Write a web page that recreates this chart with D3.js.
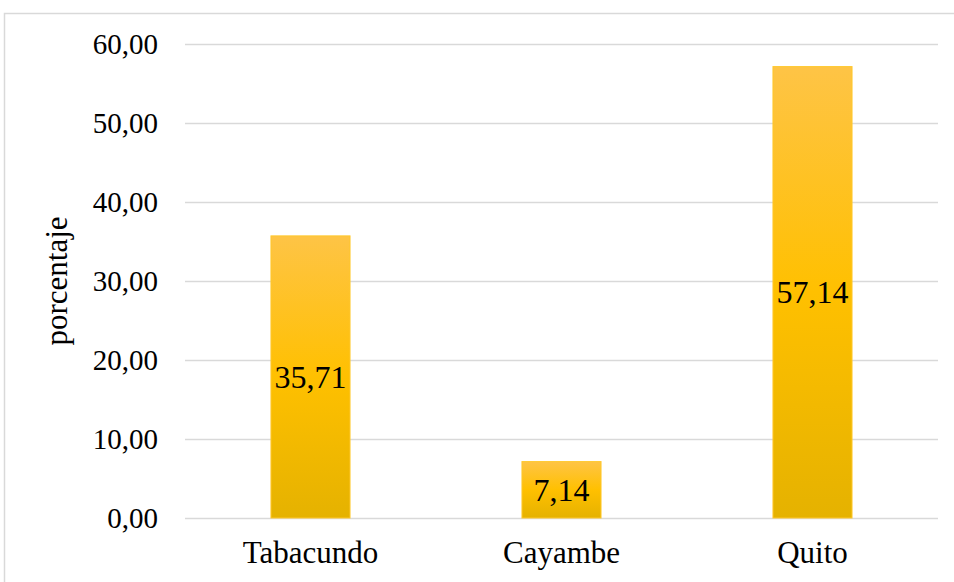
<!DOCTYPE html>
<html>
<head>
	<meta charset="utf-8">
	<script src="https://d3js.org/d3.v7.min.js"></script>
	<style>
		body { margin: 0; background: #fff; }
		text { font-family: "Liberation Serif", "Times New Roman", serif; fill: #000; }
	</style>
</head>
<body>
	<script type="text/javascript">

		//categories and values
		var categories = ["Tabacundo", "Cayambe", "Quito"];
		var values = [35.71, 7.14, 57.14];
		var tickValues = [0, 10, 20, 30, 40, 50, 60];
		var yLabel = "porcentaje";

		var w = 954;
		var h = 582;
		var margin = {left: 185, right: 16, top: 44, bottom: 64};
		var serif = "'Liberation Serif', 'Times New Roman', serif";

		var fmt = function(v) {
			return v.toFixed(2).replace(".", ",");
		};

		var svg = d3.select("body")
				.append("svg")
				.attr("width", w)
				.attr("height", h);

		//chart frame
		svg.append("rect")
			.attr("x", 4.5)
			.attr("y", 13.5)
			.attr("width", w + 10)
			.attr("height", h + 10)
			.attr("fill", "none")
			.attr("stroke", "#d9d9d9")
			.attr("stroke-width", 1.5);

		var defs = svg.append("defs");
		var grad = defs.append("linearGradient")
			.attr("id", "barGrad")
			.attr("x1", 0).attr("y1", 0)
			.attr("x2", 0).attr("y2", 1);
		grad.append("stop").attr("offset", "0%").attr("stop-color", "#fec446");
		grad.append("stop").attr("offset", "50%").attr("stop-color", "#ffc000");
		grad.append("stop").attr("offset", "100%").attr("stop-color", "#e5b200");

		var yScale = d3.scaleLinear()
			.domain([0, 60])
			.range([h - margin.bottom, margin.top]);

		var xScale = d3.scaleBand()
			.domain(categories)
			.range([margin.left, w - margin.right])
			.paddingInner(0.685)
			.paddingOuter(0.3425);

		//gridlines
		svg.append("g")
			.selectAll("line")
			.data(tickValues)
			.enter()
			.append("line")
			.attr("x1", margin.left)
			.attr("x2", w - margin.right)
			.attr("y1", function(d) { return Math.round(yScale(d)) + 0.5; })
			.attr("y2", function(d) { return Math.round(yScale(d)) + 0.5; })
			.attr("stroke", "#d9d9d9")
			.attr("stroke-width", 1.5);

		//y axis labels
		var yAxis = d3.axisLeft(yScale)
			.tickValues(tickValues)
			.tickFormat(fmt)
			.tickSize(0)
			.tickPadding(27);

		var yg = svg.append("g")
			.attr("transform", "translate(" + margin.left + ",0)")
			.call(yAxis);
		yg.select(".domain").remove();
		yg.selectAll("text")
			.style("font-family", serif)
			.style("font-size", "29px")
			.attr("fill", "#000");

		//bars
		svg.selectAll("rect.bar")
			.data(values)
			.enter()
			.append("rect")
			.attr("class", "bar")
			.attr("x", function(d, i) { return xScale(categories[i]); })
			.attr("y", function(d) { return yScale(d); })
			.attr("width", xScale.bandwidth())
			.attr("height", function(d) { return yScale(0) - yScale(d); })
			.attr("fill", "url(#barGrad)")
			.attr("stroke", "#ffc82c")
			.attr("stroke-width", 1);

		//value labels
		svg.selectAll("text.val")
			.data(values)
			.enter()
			.append("text")
			.attr("class", "val")
			.attr("x", function(d, i) { return xScale(categories[i]) + xScale.bandwidth() / 2; })
			.attr("y", function(d) { return (yScale(d) + yScale(0)) / 2; })
			.attr("dy", "0.35em")
			.attr("text-anchor", "middle")
			.style("font-family", serif)
			.style("font-size", "32px")
			.text(function(d) { return fmt(d); });

		//x axis labels
		var xAxis = d3.axisBottom(xScale)
			.tickSize(0)
			.tickPadding(23);
		var xg = svg.append("g")
			.attr("transform", "translate(0," + yScale(0) + ")")
			.call(xAxis);
		xg.select(".domain").remove();
		xg.selectAll("text")
			.style("font-family", serif)
			.style("font-size", "31px")
			.attr("fill", "#000");

		//y axis title
		svg.append("text")
			.attr("transform", "translate(67," + (margin.top + (h - margin.bottom - margin.top) / 2) + ") rotate(-90)")
			.attr("text-anchor", "middle")
			.style("font-family", serif)
			.style("font-size", "31px")
			.text(yLabel);

	</script>
</body>
</html>
